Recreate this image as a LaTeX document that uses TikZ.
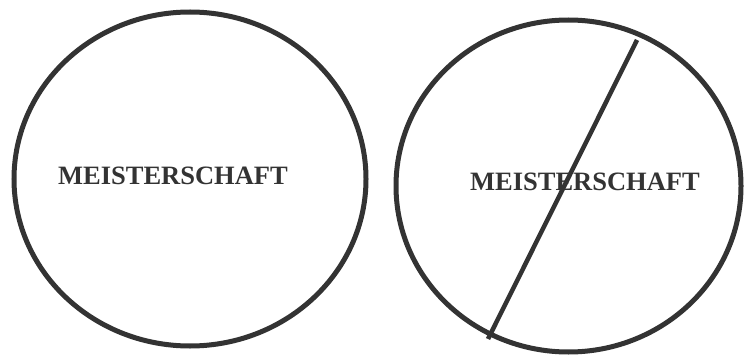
\documentclass[tikz,border=0pt]{standalone}
\usepackage{fontspec}
\setmainfont{Liberation Serif}
\begin{document}
\begin{tikzpicture}[x=1pt,y=-1pt,
  ring/.style={draw=black!80, line width=5pt},
  lbl/.style={font=\fontsize{26.5}{30}\selectfont\bfseries, text=black!80, inner sep=0pt}]
\useasboundingbox (0,0) rectangle (746,358);
\draw[ring] (190,179) ellipse [x radius=176, y radius=167];
\draw[ring] (568.5,186) ellipse [x radius=172.5, y radius=166];
\node[lbl] (l) at (173,176) {MEISTERSCHAFT};
\node[lbl] (r) at (585,182) {MEISTERSCHAFT};
\coordinate (a) at (637,40);
\coordinate (b) at (488,339);
\draw[ring, line width=4.5pt] (a) -- (b);
\end{tikzpicture}
\end{document}
